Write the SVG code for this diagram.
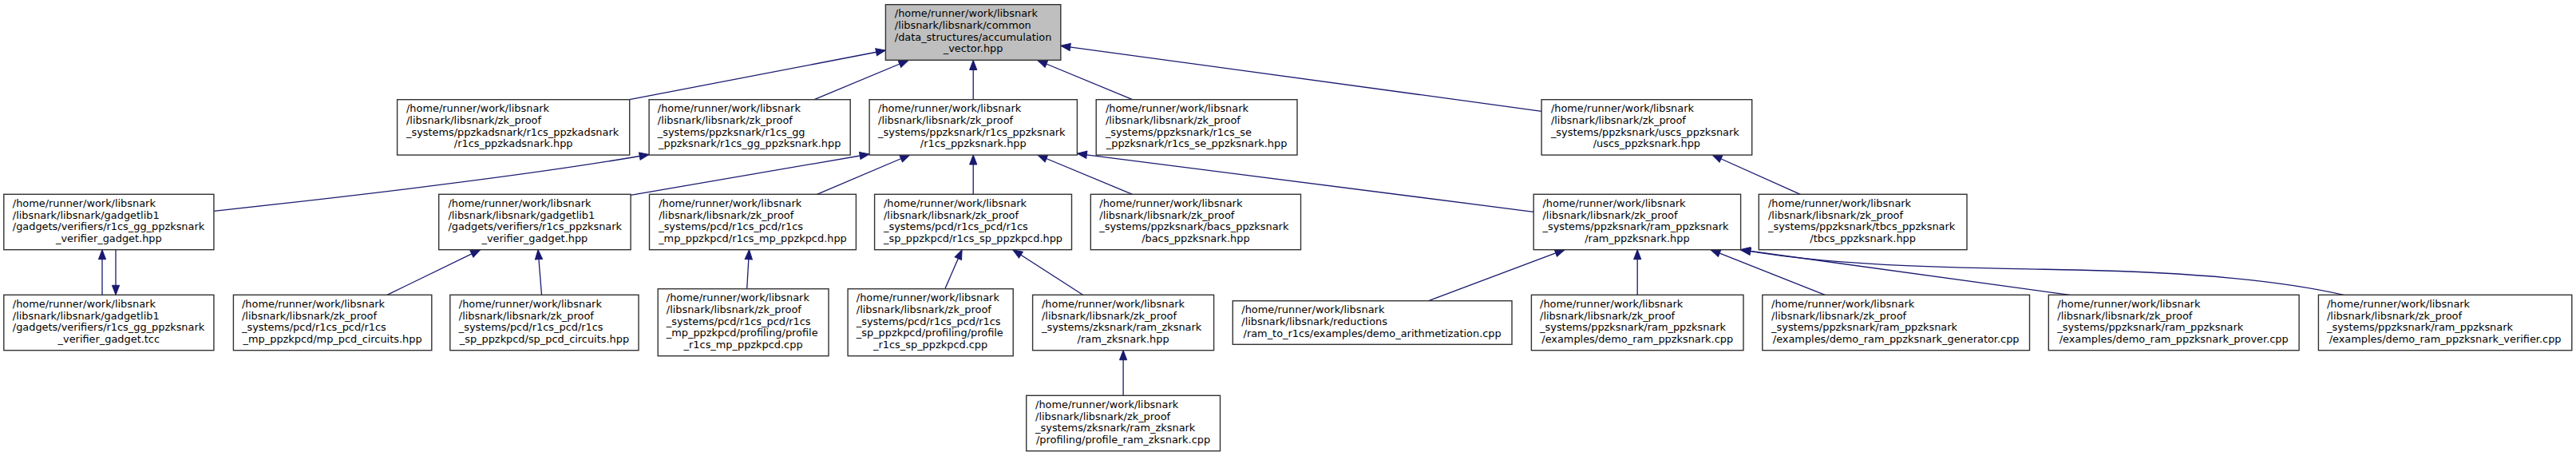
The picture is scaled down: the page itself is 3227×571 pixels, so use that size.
<svg xmlns="http://www.w3.org/2000/svg" width="3227" height="571" viewBox="0 0 3227 571">
<style>
.n rect{fill:#fff;stroke:#333;stroke-width:1.4}
.n text{font-family:"DejaVu Sans",sans-serif;font-size:12.9px;fill:#000}
.n text.c{text-anchor:middle}
#n0 rect{fill:#bfbfbf}
.e path{fill:none;stroke:#191970;stroke-width:1.3;marker-end:url(#ah)}
</style>
<defs>
<marker id="ah" markerUnits="userSpaceOnUse" markerWidth="14" markerHeight="12" viewBox="-1 -6 14 12" refX="12" refY="0" orient="auto">
<path d="M0,-4.6 L12,0 L0,4.6 z" fill="#191970" stroke="#191970" stroke-width="1"/>
</marker>
</defs>
<rect width="3227" height="571" fill="#fff"/>
<g class="e">
<path d="M788.7,124.7 L1109.4,63"/>
<path d="M1020.1,124.7 L1138,75.5"/>
<path d="M1219.2,124.7 L1219.2,75.5"/>
<path d="M1418.6,124.7 L1299.8,75.5"/>
<path d="M1931.1,139.3 L1328.8,57.3"/>
<path d="M267.9,264.3 C400,250 650,222 813.1,193.5"/>
<path d="M790.1,244.3 L1089.1,193"/>
<path d="M1023.5,243.3 L1139.7,194"/>
<path d="M1219.2,243.3 L1219.2,194"/>
<path d="M1418.6,243.3 L1299.8,194"/>
<path d="M1921.2,265.3 L1349.4,192.3"/>
<path d="M2255.3,243.3 L2145,194"/>
<path d="M128,369.3 L128,312.7"/>
<path d="M145,312.7 L145,369.3"/>
<path d="M484.9,369.3 L601.7,312.7"/>
<path d="M678.5,369.3 L674,312.7"/>
<path d="M935.7,361.7 L938.5,312.7"/>
<path d="M1183.8,361.7 L1205.1,312.7"/>
<path d="M1356.6,369.3 L1268.8,312.7"/>
<path d="M1407.1,495.3 L1407.1,438.7"/>
<path d="M1789.6,376.7 L1960.1,312.7"/>
<path d="M2051.2,369.3 L2051.2,312.7"/>
<path d="M2286.3,369.3 L2143,312.7"/>
<path d="M2592.8,369.3 L2180,312.7"/>
<path d="M2935.9,369.3 C2860,352 2750,341 2600,338 C2450,335 2300,334 2181,312.7"/>
</g>
<g id="n0" class="n"><rect x="1109.4" y="5.7" width="219.4" height="69.6"/>
<text x="1120.8" y="21.3">/home/runner/work/libsnark</text><text x="1120.8" y="36">/libsnark/libsnark/common</text><text x="1120.8" y="50.7">/data_structures/accumulation</text><text class="c" x="1219.1" y="65.4">_vector.hpp</text></g>
<g id="n1" class="n"><rect x="497.6" y="124.7" width="291.1" height="69.4"/>
<text x="509" y="140.3">/home/runner/work/libsnark</text><text x="509" y="155">/libsnark/libsnark/zk_proof</text><text x="509" y="169.7">_systems/ppzkadsnark/r1cs_ppzkadsnark</text><text class="c" x="643.2" y="184.4">/r1cs_ppzkadsnark.hpp</text></g>
<g id="n2" class="n"><rect x="813.1" y="124.7" width="252.1" height="69.4"/>
<text x="823.8" y="140.3">/home/runner/work/libsnark</text><text x="823.8" y="155">/libsnark/libsnark/zk_proof</text><text x="823.8" y="169.7">_systems/ppzksnark/r1cs_gg</text><text class="c" x="939.2" y="184.4">_ppzksnark/r1cs_gg_ppzksnark.hpp</text></g>
<g id="n3" class="n"><rect x="1089.1" y="124.7" width="260.3" height="69.4"/>
<text x="1100.1" y="140.3">/home/runner/work/libsnark</text><text x="1100.1" y="155">/libsnark/libsnark/zk_proof</text><text x="1100.1" y="169.7">_systems/ppzksnark/r1cs_ppzksnark</text><text class="c" x="1219.25" y="184.4">/r1cs_ppzksnark.hpp</text></g>
<g id="n4" class="n"><rect x="1373.2" y="124.7" width="251.8" height="69.4"/>
<text x="1384.9" y="140.3">/home/runner/work/libsnark</text><text x="1384.9" y="155">/libsnark/libsnark/zk_proof</text><text x="1384.9" y="169.7">_systems/ppzksnark/r1cs_se</text><text class="c" x="1499.1" y="184.4">_ppzksnark/r1cs_se_ppzksnark.hpp</text></g>
<g id="n5" class="n"><rect x="1931.1" y="124.7" width="263.6" height="69.4"/>
<text x="1942.9" y="140.3">/home/runner/work/libsnark</text><text x="1942.9" y="155">/libsnark/libsnark/zk_proof</text><text x="1942.9" y="169.7">_systems/ppzksnark/uscs_ppzksnark</text><text class="c" x="2062.9" y="184.4">/uscs_ppzksnark.hpp</text></g>
<g id="n6" class="n"><rect x="4.8" y="243.3" width="263.1" height="69.4"/>
<text x="15.8" y="258.9">/home/runner/work/libsnark</text><text x="15.8" y="273.6">/libsnark/libsnark/gadgetlib1</text><text x="15.8" y="288.3">/gadgets/verifiers/r1cs_gg_ppzksnark</text><text class="c" x="136.35" y="303">_verifier_gadget.hpp</text></g>
<g id="n7" class="n"><rect x="549.7" y="243.3" width="240.4" height="69.4"/>
<text x="561.4" y="258.9">/home/runner/work/libsnark</text><text x="561.4" y="273.6">/libsnark/libsnark/gadgetlib1</text><text x="561.4" y="288.3">/gadgets/verifiers/r1cs_ppzksnark</text><text class="c" x="669.9" y="303">_verifier_gadget.hpp</text></g>
<g id="n8" class="n"><rect x="813.5" y="243.3" width="258.9" height="69.4"/>
<text x="825.2" y="258.9">/home/runner/work/libsnark</text><text x="825.2" y="273.6">/libsnark/libsnark/zk_proof</text><text x="825.2" y="288.3">_systems/pcd/r1cs_pcd/r1cs</text><text class="c" x="942.95" y="303">_mp_ppzkpcd/r1cs_mp_ppzkpcd.hpp</text></g>
<g id="n9" class="n"><rect x="1095.6" y="243.3" width="246.9" height="69.4"/>
<text x="1107" y="258.9">/home/runner/work/libsnark</text><text x="1107" y="273.6">/libsnark/libsnark/zk_proof</text><text x="1107" y="288.3">_systems/pcd/r1cs_pcd/r1cs</text><text class="c" x="1219.05" y="303">_sp_ppzkpcd/r1cs_sp_ppzkpcd.hpp</text></g>
<g id="n10" class="n"><rect x="1366.3" y="243.3" width="263.2" height="69.4"/>
<text x="1377.3" y="258.9">/home/runner/work/libsnark</text><text x="1377.3" y="273.6">/libsnark/libsnark/zk_proof</text><text x="1377.3" y="288.3">_systems/ppzksnark/bacs_ppzksnark</text><text class="c" x="1497.9" y="303">/bacs_ppzksnark.hpp</text></g>
<g id="n11" class="n"><rect x="1921.2" y="243.3" width="259.4" height="69.4"/>
<text x="1932.5" y="258.9">/home/runner/work/libsnark</text><text x="1932.5" y="273.6">/libsnark/libsnark/zk_proof</text><text x="1932.5" y="288.3">_systems/ppzksnark/ram_ppzksnark</text><text class="c" x="2050.9" y="303">/ram_ppzksnark.hpp</text></g>
<g id="n12" class="n"><rect x="2203.3" y="243.3" width="260.7" height="69.4"/>
<text x="2215" y="258.9">/home/runner/work/libsnark</text><text x="2215" y="273.6">/libsnark/libsnark/zk_proof</text><text x="2215" y="288.3">_systems/ppzksnark/tbcs_ppzksnark</text><text class="c" x="2333.65" y="303">/tbcs_ppzksnark.hpp</text></g>
<g id="n13" class="n"><rect x="4.8" y="369.3" width="263.1" height="69.4"/>
<text x="15.8" y="384.9">/home/runner/work/libsnark</text><text x="15.8" y="399.6">/libsnark/libsnark/gadgetlib1</text><text x="15.8" y="414.3">/gadgets/verifiers/r1cs_gg_ppzksnark</text><text class="c" x="136.35" y="429">_verifier_gadget.tcc</text></g>
<g id="n14" class="n"><rect x="292.4" y="369.3" width="248.4" height="69.4"/>
<text x="303" y="384.9">/home/runner/work/libsnark</text><text x="303" y="399.6">/libsnark/libsnark/zk_proof</text><text x="303" y="414.3">_systems/pcd/r1cs_pcd/r1cs</text><text class="c" x="416.6" y="429">_mp_ppzkpcd/mp_pcd_circuits.hpp</text></g>
<g id="n15" class="n"><rect x="563.8" y="369.3" width="236.2" height="69.4"/>
<text x="574.8" y="384.9">/home/runner/work/libsnark</text><text x="574.8" y="399.6">/libsnark/libsnark/zk_proof</text><text x="574.8" y="414.3">_systems/pcd/r1cs_pcd/r1cs</text><text class="c" x="681.9" y="429">_sp_ppzkpcd/sp_pcd_circuits.hpp</text></g>
<g id="n16" class="n"><rect x="824.2" y="361.7" width="213.8" height="84"/>
<text x="834.8" y="377.3">/home/runner/work/libsnark</text><text x="834.8" y="392">/libsnark/libsnark/zk_proof</text><text x="834.8" y="406.7">_systems/pcd/r1cs_pcd/r1cs</text><text x="834.8" y="421.4">_mp_ppzkpcd/profiling/profile</text><text class="c" x="931.1" y="436.1">_r1cs_mp_ppzkpcd.cpp</text></g>
<g id="n17" class="n"><rect x="1062.1" y="361.7" width="207.1" height="84"/>
<text x="1072.8" y="377.3">/home/runner/work/libsnark</text><text x="1072.8" y="392">/libsnark/libsnark/zk_proof</text><text x="1072.8" y="406.7">_systems/pcd/r1cs_pcd/r1cs</text><text x="1072.8" y="421.4">_sp_ppzkpcd/profiling/profile</text><text class="c" x="1165.65" y="436.1">_r1cs_sp_ppzkpcd.cpp</text></g>
<g id="n18" class="n"><rect x="1293.6" y="369.3" width="227" height="69.4"/>
<text x="1305" y="384.9">/home/runner/work/libsnark</text><text x="1305" y="399.6">/libsnark/libsnark/zk_proof</text><text x="1305" y="414.3">_systems/zksnark/ram_zksnark</text><text class="c" x="1407.1" y="429">/ram_zksnark.hpp</text></g>
<g id="n19" class="n"><rect x="1544.3" y="376.7" width="349.7" height="54.6"/>
<text x="1555.3" y="392.3">/home/runner/work/libsnark</text><text x="1555.3" y="407">/libsnark/libsnark/reductions</text><text class="c" x="1719.15" y="421.7">/ram_to_r1cs/examples/demo_arithmetization.cpp</text></g>
<g id="n20" class="n"><rect x="1918.4" y="369.3" width="265.6" height="69.4"/>
<text x="1929.1" y="384.9">/home/runner/work/libsnark</text><text x="1929.1" y="399.6">/libsnark/libsnark/zk_proof</text><text x="1929.1" y="414.3">_systems/ppzksnark/ram_ppzksnark</text><text class="c" x="2051.2" y="429">/examples/demo_ram_ppzksnark.cpp</text></g>
<g id="n21" class="n"><rect x="2207.8" y="369.3" width="334.7" height="69.4"/>
<text x="2219.1" y="384.9">/home/runner/work/libsnark</text><text x="2219.1" y="399.6">/libsnark/libsnark/zk_proof</text><text x="2219.1" y="414.3">_systems/ppzksnark/ram_ppzksnark</text><text class="c" x="2375.15" y="429">/examples/demo_ram_ppzksnark_generator.cpp</text></g>
<g id="n22" class="n"><rect x="2566.3" y="369.3" width="313.8" height="69.4"/>
<text x="2577.3" y="384.9">/home/runner/work/libsnark</text><text x="2577.3" y="399.6">/libsnark/libsnark/zk_proof</text><text x="2577.3" y="414.3">_systems/ppzksnark/ram_ppzksnark</text><text class="c" x="2723.2" y="429">/examples/demo_ram_ppzksnark_prover.cpp</text></g>
<g id="n23" class="n"><rect x="2904.4" y="369.3" width="317.4" height="69.4"/>
<text x="2915" y="384.9">/home/runner/work/libsnark</text><text x="2915" y="399.6">/libsnark/libsnark/zk_proof</text><text x="2915" y="414.3">_systems/ppzksnark/ram_ppzksnark</text><text class="c" x="3063.1" y="429">/examples/demo_ram_ppzksnark_verifier.cpp</text></g>
<g id="n24" class="n"><rect x="1285.7" y="495.3" width="242.8" height="69.4"/>
<text x="1297.1" y="510.9">/home/runner/work/libsnark</text><text x="1297.1" y="525.6">/libsnark/libsnark/zk_proof</text><text x="1297.1" y="540.3">_systems/zksnark/ram_zksnark</text><text class="c" x="1407.1" y="555">/profiling/profile_ram_zksnark.cpp</text></g>
</svg>
